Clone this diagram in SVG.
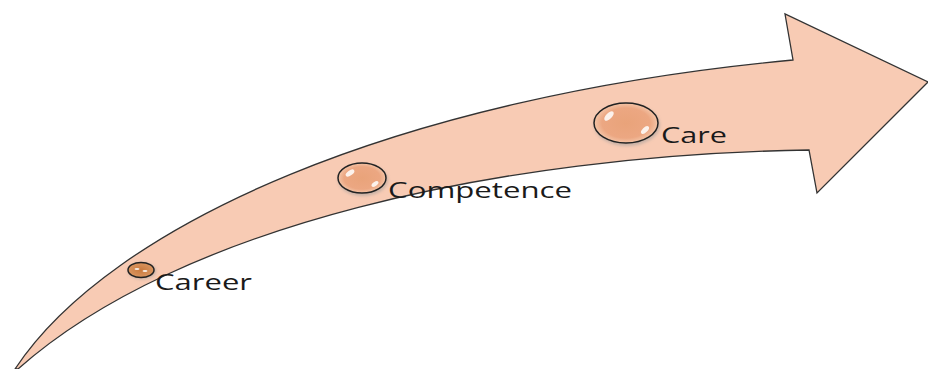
<svg xmlns="http://www.w3.org/2000/svg" width="928" height="369" viewBox="0 0 928 369">
<defs>
<style>
.lbl{font-family:"Open Sans","DejaVu Sans",sans-serif;font-size:21px;fill:#1a1a1a}
.dot{stroke:#222;stroke-width:1.5}
.hl{fill:#fff;opacity:0.85}
</style>
<radialGradient id="g1" cx="0.5" cy="0.5" r="0.5">
<stop offset="0" stop-color="#E9A37A"/>
<stop offset="0.75" stop-color="#ECA782"/>
<stop offset="1" stop-color="#F4C5A8"/>
</radialGradient>
<radialGradient id="g2" cx="0.5" cy="0.5" r="0.5">
<stop offset="0" stop-color="#C97A3E"/>
<stop offset="1" stop-color="#D99560"/>
</radialGradient>
<filter id="sh" x="-30%" y="-30%" width="160%" height="160%">
<feGaussianBlur stdDeviation="1.5"/>
</filter>
</defs>
<g id="arrow">
<path d="M15,369 C110,225 395,97 793,60 L785,14 L928,82 L817,193 L809,150 C500,155 180,225 18,369 Z" fill="#F8CBB4" stroke="#333" stroke-width="1.3" stroke-linejoin="miter"/>
</g>
<g id="career">
<ellipse cx="142" cy="271" rx="14" ry="8.5" fill="#999" opacity="0.5" filter="url(#sh)"/>
<ellipse class="dot" cx="141" cy="270" rx="13" ry="7.5" fill="url(#g2)"/>
<ellipse class="hl" cx="137" cy="269" rx="2.5" ry="1"/>
<ellipse class="hl" cx="145" cy="271" rx="2.5" ry="1"/>
<text class="lbl" x="155" y="290" textLength="97" lengthAdjust="spacingAndGlyphs">Career</text>
</g>
<g id="competence">
<ellipse cx="363" cy="180" rx="25" ry="16" fill="#999" opacity="0.5" filter="url(#sh)"/>
<ellipse class="dot" cx="362" cy="178" rx="24" ry="15" fill="url(#g1)"/>
<ellipse class="hl" cx="350" cy="173" rx="5" ry="2.5" transform="rotate(-35 350 173)"/>
<ellipse class="hl" cx="375" cy="184" rx="4" ry="2" transform="rotate(-35 375 184)"/>
<text class="lbl" x="388" y="198" textLength="184" lengthAdjust="spacingAndGlyphs">Competence</text>
</g>
<g id="care">
<ellipse cx="627" cy="125" rx="33" ry="21" fill="#999" opacity="0.5" filter="url(#sh)"/>
<ellipse class="dot" cx="626" cy="123" rx="32" ry="20" fill="url(#g1)"/>
<ellipse class="hl" cx="609" cy="116" rx="6" ry="3" transform="rotate(-45 609 116)"/>
<ellipse class="hl" cx="645" cy="130" rx="5" ry="2.5" transform="rotate(-45 645 130)"/>
<text class="lbl" x="661" y="143" textLength="66" lengthAdjust="spacingAndGlyphs">Care</text>
</g>
</svg>
